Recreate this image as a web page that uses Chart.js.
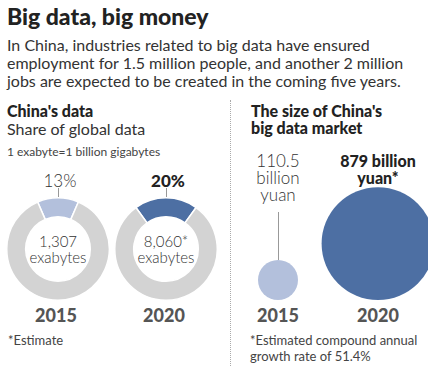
<!DOCTYPE html>
<html>
<head>
<meta charset="utf-8">
<script src="https://cdn.jsdelivr.net/npm/chart.js@4"></script>
<style>
  html, body { margin: 0; padding: 0; background: #fff; }
  body { width: 441px; height: 366px; position: relative; overflow: hidden;
         font-family: Lato, "Open Sans", sans-serif; color: #333; }
  .t { position: absolute; white-space: nowrap; }
  .title { left: 7px; top: 2px; font-size: 23px; font-weight: 900; color: #222; }
  .sub { left: 7px; top: 36px; font-size: 16px; line-height: 18px; color: #333; }
  .h { font-size: 16px; font-weight: 900; color: #222; line-height: 17px; }
  .light { font-weight: 300; color: #333; }
  .c { text-align: center; transform: translateX(-50%); }
  .year { font-size: 18px; font-weight: 900; color: #555; top: 304px; }
  .tick { position: absolute; width: 1px; background: #999; }
  .note { font-size: 13px; color: #444; line-height: 16px; }
  canvas { position: absolute; }
  #sep { position: absolute; left: 230px; top: 100px; height: 266px; border-left: 1px dotted #aaa; }
</style>
</head>
<body>
<div class="t title">Big data, big money</div>
<div class="t sub">In China, industries related to big data have ensured<br>employment for 1.5 million people, and another 2 million<br>jobs are expected to be created in the coming five years.</div>

<div class="t h" style="left:7px; top:102px;">China's data</div>
<div class="t" style="left:7px; top:119px; font-size:16px; color:#333;">Share of global data</div>
<div class="t" style="left:7px; top:144px; font-size:12px; color:#444;">1 exabyte=1 billion gigabytes</div>

<div id="sep"></div>

<div class="t h" style="left:251px; top:102px;">The size of China's<br>big data market</div>

<div id="labels"></div>

<canvas id="d0" width="104" height="104" style="left:6px; top:197px;"></canvas>
<canvas id="d1" width="104" height="104" style="left:114px; top:197px;"></canvas>
<canvas id="bub" width="200" height="160" style="left:228px; top:140px;"></canvas>

<div class="t note" style="left:8px; top:332px;">*Estimate</div>
<div class="t note" style="left:250px; top:332px;">*Estimated compound annual<br>growth rate of 51.4%</div>

<script>
// ---- data -------------------------------------------------------------------
const years        = ['2015', '2020'];
const shareGlobal  = [13, 20];              // % of global data
const shareLabels  = ['13%', '20%'];
const exabytes     = ['1,307', '8,060*'];
const marketValue  = [110.5, 879];          // billion yuan
const marketLabels = [['110.5', 'billion', 'yuan'], ['879 billion', 'yuan*']];

const GREY  = '#d3d3d3';
const LIGHT = '#b3c0dc';
const DARK  = '#4d6fa3';
const segColors = [LIGHT, DARK];

// ---- doughnuts --------------------------------------------------------------
const donutCentres = [58, 166];
years.forEach((yr, i) => {
  new Chart(document.getElementById('d' + i), {
    type: 'doughnut',
    data: {
      labels: ['China', 'Rest of world'],
      datasets: [{
        data: [shareGlobal[i], 100 - shareGlobal[i]],
        backgroundColor: [segColors[i], GREY],
        borderColor: '#fff',
        borderWidth: 1.5,
      }],
    },
    options: {
      responsive: false,
      animation: false,
      cutout: '63%',
      rotation: -shareGlobal[i] * 3.6 / 2,   // centre the China slice at the top
      layout: { padding: 0 },
      plugins: { legend: { display: false }, tooltip: { enabled: false } },
    },
  });
});

// labels above/inside doughnuts
const lab = document.getElementById('labels');
function addText(html, style, cls) {
  const d = document.createElement('div');
  d.className = 't ' + (cls || '');
  d.innerHTML = html;
  d.setAttribute('style', style);
  lab.appendChild(d);
}
years.forEach((yr, i) => {
  const cx = donutCentres[i];
  addText(shareLabels[i], `left:${cx + 2}px; top:170px; font-size:17px;` + (i ? 'font-weight:900;color:#222;' : ''), 'c' + (i ? '' : ' light'));
  const tk = document.createElement('div');
  tk.className = 'tick';
  tk.setAttribute('style', `left:${cx}px; top:188px; height:11px;`);
  lab.appendChild(tk);
  addText(exabytes[i] + '<br>exabytes', `left:${cx}px; top:233px; font-size:15px; line-height:16px;`, 'c light');
  addText(yr, `left:${cx - 2}px;`, 'c year');
});

// ---- market bubbles ---------------------------------------------------------
const R_SMALL = 20;                                   // px radius of the 2015 bubble
const k = R_SMALL / Math.sqrt(marketValue[0]);        // area-proportional scale
const bubbleR = marketValue.map(v => k * Math.sqrt(v));

const connector = {
  id: 'connector',
  afterDatasetsDraw(chart) {
    const el = chart.getDatasetMeta(0).data[0];
    const c = chart.ctx;
    c.save();
    c.strokeStyle = '#999';
    c.lineWidth = 1;
    c.beginPath();
    c.moveTo(Math.round(el.x) + 0.5, el.y - bubbleR[0]);
    c.lineTo(Math.round(el.x) + 0.5, 72);
    c.stroke();
    c.restore();
  },
};

new Chart(document.getElementById('bub'), {
  type: 'bubble',
  data: {
    datasets: [{
      // bottoms aligned: centre height = radius
      data: marketValue.map((v, i) => ({ x: i, y: bubbleR[i], r: bubbleR[i] })),
      backgroundColor: segColors,
      borderColor: segColors,
      borderWidth: 0,
      hoverRadius: 0,
      clip: false,
    }],
  },
  options: {
    responsive: false,
    animation: false,
    layout: { padding: 0, autoPadding: false },
    plugins: { legend: { display: false }, tooltip: { enabled: false } },
    scales: {
      x: { type: 'linear', min: -0.5, max: 1.5, display: false },
      y: { type: 'linear', min: 0, max: 160, display: false },
    },
  },
  plugins: [connector],
});

const bubbleCentres = [278, 378];
years.forEach((yr, i) => {
  const cx = bubbleCentres[i];
  const bold = i === 1;
  addText(marketLabels[i].join('<br>'),
    `left:${cx}px; top:152px; font-size:${bold ? 16 : 17}px; line-height:17px;` + (bold ? 'font-weight:900;color:#222;' : ''),
    'c' + (bold ? '' : ' light'));
  addText(yr, `left:${cx}px;`, 'c year');
});
</script>
</body>
</html>
